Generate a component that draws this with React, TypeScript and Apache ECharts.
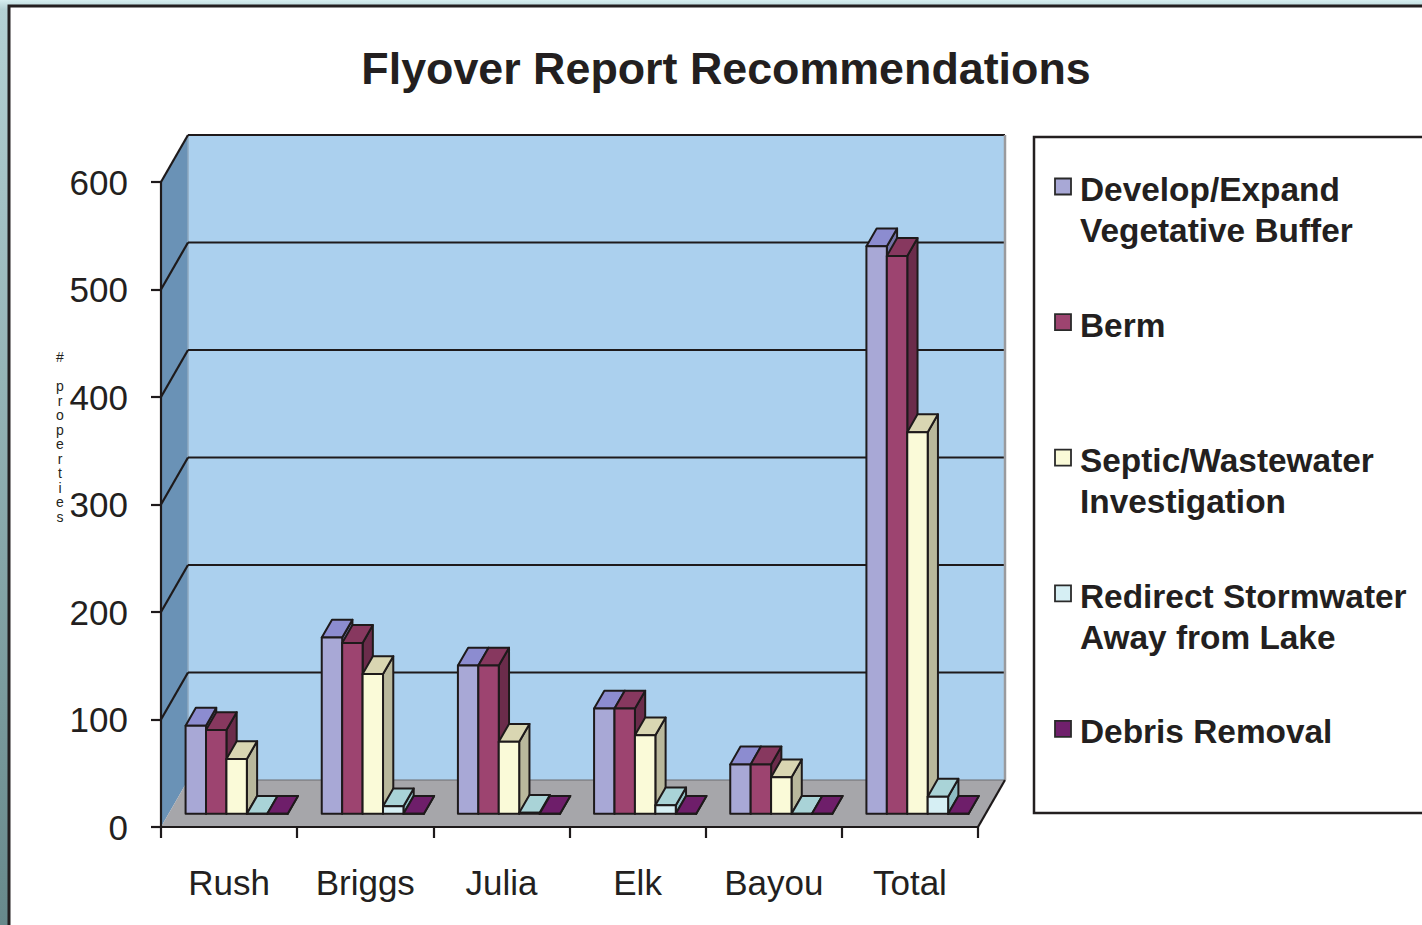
import React, { useEffect, useRef } from "react";
import * as echarts from "echarts";

// ---------- data ----------
const categories = ["Rush", "Briggs", "Julia", "Elk", "Bayou", "Total"];
const seriesNames = [
  "Develop/Expand Vegetative Buffer",
  "Berm",
  "Septic/Wastewater Investigation",
  "Redirect Stormwater Away from Lake",
  "Debris Removal",
];
const legendLabels = [
  "Develop/Expand\nVegetative Buffer",
  "Berm",
  "Septic/Wastewater\nInvestigation",
  "Redirect Stormwater\nAway from Lake",
  "Debris Removal",
];
const developValues = [82, 164, 138, 98, 46, 528];
const bermValues = [78, 159, 138, 98, 46, 519];
const septicValues = [51, 130, 67, 73, 34, 355];
const redirectValues = [0, 7, 1, 8, 0, 16];
const debrisValues = [0, 0, 0, 0, 0, 0];
const yTicks = [0, 100, 200, 300, 400, 500, 600];
const yAxisTitle = "# properties";
const chartTitle = "Flyover Report Recommendations";

// ---------- styles ----------
const FONT = "'Liberation Sans', Arial, Helvetica, sans-serif";
const INK = "#231f20";
const EDGE = "#1e1a1b";
const DX = 27; // depth vector of the whole scene
const DY = -47;
const F0 = 0.28; // bar front depth fraction
const FB = 0.38; // bar depth fraction
const BACK = "#abd0ee";
const SIDE = "#6a92b6";
const FLOOR = "#a6a6aa";

const palette = [
  { front: "#a8a8d6", top: "#8c8cd0", side: "#7373a8" },
  { front: "#9d4470", top: "#87385f", side: "#6b2c4b" },
  { front: "#fafad8", top: "#d9d6b2", side: "#b9b89c" },
  { front: "#d6eff4", top: "#a9d3d7", side: "#8fbec4" },
  { front: "#70206c", top: "#6e1e6a", side: "#55154f" },
];

const allValues = [developValues, bermValues, septicValues, redirectValues, debrisValues];

const makeBarRender = (j: number) => (params: any, api: any) => {
  const ci = api.value(0);
  const v = api.value(1);
  const base = api.coord([ci, 0]);
  const topPt = api.coord([ci, v]);
  const band = api.size([1, 0])[0];
  const bw = band * 0.15;
  const ox = DX * F0;
  const oy = DY * F0;
  const bx = DX * FB;
  const by = DY * FB;
  const xl = base[0] - 2.5 * bw + j * bw + ox;
  const xr = xl + bw;
  const yb = base[1] + oy;
  const yt = topPt[1] + oy;
  const c = palette[j];
  const st = { stroke: EDGE, lineWidth: 2, lineJoin: "round" };
  return {
    type: "group",
    children: [
      {
        type: "polygon",
        shape: { points: [[xr, yb], [xr + bx, yb + by], [xr + bx, yt + by], [xr, yt]] },
        style: { fill: c.side, ...st },
      },
      {
        type: "polygon",
        shape: { points: [[xl, yt], [xr, yt], [xr + bx, yt + by], [xl + bx, yt + by]] },
        style: { fill: c.top, ...st },
      },
      {
        type: "rect",
        shape: { x: xl, y: yt, width: bw, height: yb - yt },
        style: { fill: c.front, ...st },
      },
    ],
  };
};

const renderWalls = (params: any, api: any) => {
  const cs = params.coordSys;
  const x0 = cs.x;
  const x1 = cs.x + cs.width;
  const yv = (v: number) => api.coord([0, v])[1];
  const yTop = yv(yTicks[yTicks.length - 1]);
  const yBot = yv(yTicks[0]);
  const children: any[] = [];
  children.push({
    type: "rect",
    shape: { x: x0 + DX, y: yTop + DY, width: x1 - x0, height: yBot - yTop },
    style: { fill: BACK },
  });
  children.push({
    type: "polygon",
    shape: { points: [[x0, yTop], [x0 + DX, yTop + DY], [x0 + DX, yBot + DY], [x0, yBot]] },
    style: { fill: SIDE },
  });
  children.push({
    type: "line",
    shape: { x1: x0 + DX, y1: yTop + DY, x2: x0 + DX, y2: yBot + DY },
    style: { stroke: "#8fa9bf", lineWidth: 1.5 },
  });
  children.push({
    type: "polygon",
    shape: { points: [[x0, yBot], [x0 + DX, yBot + DY], [x1 + DX, yBot + DY], [x1, yBot]] },
    style: { fill: FLOOR },
  });
  children.push({
    type: "line",
    shape: { x1: x0 + DX, y1: yBot + DY, x2: x1 + DX, y2: yBot + DY },
    style: { stroke: "#6d6d70", lineWidth: 1.2 },
  });
  yTicks.forEach((v, k) => {
    if (k === 0) return;
    const y = yv(v);
    children.push({
      type: "line",
      shape: { x1: x0 + DX, y1: y + DY, x2: x1 + DX, y2: y + DY },
      style: { stroke: EDGE, lineWidth: 2.2 },
    });
    children.push({
      type: "line",
      shape: { x1: x0, y1: y, x2: x0 + DX, y2: y + DY },
      style: { stroke: EDGE, lineWidth: 2.2 },
    });
  });
  children.push({
    type: "line",
    shape: { x1: x1 + DX, y1: yTop + DY, x2: x1 + DX, y2: yBot + DY },
    style: { stroke: "#9a9a9d", lineWidth: 2.5 },
  });
  children.push({
    type: "line",
    shape: { x1: x1, y1: yBot, x2: x1 + DX, y2: yBot + DY },
    style: { stroke: EDGE, lineWidth: 2.2 },
  });
  return { type: "group", children };
};

const legendGraphics = () => {
  const els: any[] = [];
  els.push({
    type: "rect",
    z: 10,
    shape: { x: 1034, y: 137, width: 420, height: 676 },
    style: { fill: "#ffffff", stroke: INK, lineWidth: 2.5 },
  });
  legendLabels.forEach((label, i) => {
    const cy = 189.5 + i * 135.6;
    els.push({
      type: "rect",
      z: 11,
      shape: { x: 1055, y: cy - 11, width: 16, height: 16 },
      style: { fill: palette[i].front, stroke: "#2a2a2a", lineWidth: 1.8 },
    });
    els.push({
      type: "text",
      z: 11,
      x: 1080,
      y: cy - 20.5,
      style: {
        text: label,
        font: `bold 33.4px ${FONT}`,
        fill: INK,
        lineHeight: 41,
        verticalAlign: "top",
        align: "left",
      },
    });
  });
  return els;
};

export default function App() {
  const ref = useRef<HTMLDivElement>(null);
  useEffect(() => {
    if (!ref.current) return;
    const chart = echarts.init(ref.current, null, { renderer: "svg" });
    const option: any = {
      animation: false,
      title: {
        text: chartTitle,
        left: 726,
        top: 45,
        textAlign: "center",
        padding: 0,
        textStyle: { fontFamily: FONT, fontSize: 44.8, fontWeight: "bold", color: INK },
      },
      grid: { left: 161, top: 182, width: 817, height: 645, containLabel: false },
      xAxis: {
        type: "category",
        data: categories,
        z: 3,
        axisLine: { lineStyle: { color: EDGE, width: 2.2 } },
        axisTick: { show: true, length: 11, lineStyle: { color: EDGE, width: 2.2 } },
        axisLabel: { fontFamily: FONT, fontSize: 35, color: INK, margin: 38 },
        splitLine: { show: false },
      },
      yAxis: {
        type: "value",
        min: 0,
        max: 600,
        interval: 100,
        z: 3,
        axisLine: { show: true, lineStyle: { color: EDGE, width: 2.2 } },
        axisTick: { show: true, length: 10, lineStyle: { color: EDGE, width: 2.2 } },
        axisLabel: { fontFamily: FONT, fontSize: 35, color: INK, margin: 33 },
        splitLine: { show: false },
      },
      graphic: {
        elements: [
          {
            type: "rect",
            z: -20,
            shape: { x: 0, y: 0, width: 1422, height: 925 },
            style: {
              fill: new echarts.graphic.LinearGradient(0, 0, 0, 1, [
                { offset: 0, color: "#d6eef0" },
                { offset: 0.01, color: "#b4d1d4" },
                { offset: 1, color: "#67898b" },
              ]),
            },
          },
          {
            type: "rect",
            z: -19,
            shape: { x: 9, y: 6, width: 1440, height: 960 },
            style: { fill: "#ffffff", stroke: INK, lineWidth: 3 },
          },
          {
            type: "text",
            z: 5,
            x: 60,
            y: 350,
            style: {
              text: yAxisTitle.split("").join("\n"),
              font: `14px ${FONT}`,
              fill: INK,
              lineHeight: 14.5,
              align: "center",
              verticalAlign: "top",
            },
          },
          ...legendGraphics(),
        ],
      },
      series: [
        {
          type: "custom",
          name: "walls",
          z: 1,
          silent: true,
          renderItem: renderWalls,
          data: [[0, 0]],
        },
        ...allValues.map((vals, j) => ({
          type: "custom",
          name: seriesNames[j],
          z: 2,
          renderItem: makeBarRender(j),
          data: vals.map((v, i) => [i, v]),
          encode: { x: 0, y: 1 },
        })),
      ],
    };
    chart.setOption(option);
    return () => chart.dispose();
  }, []);
  return (
    <div
      ref={ref}
      style={{ position: "absolute", left: 0, top: 0, width: 1422, height: 925 }}
    />
  );
}
